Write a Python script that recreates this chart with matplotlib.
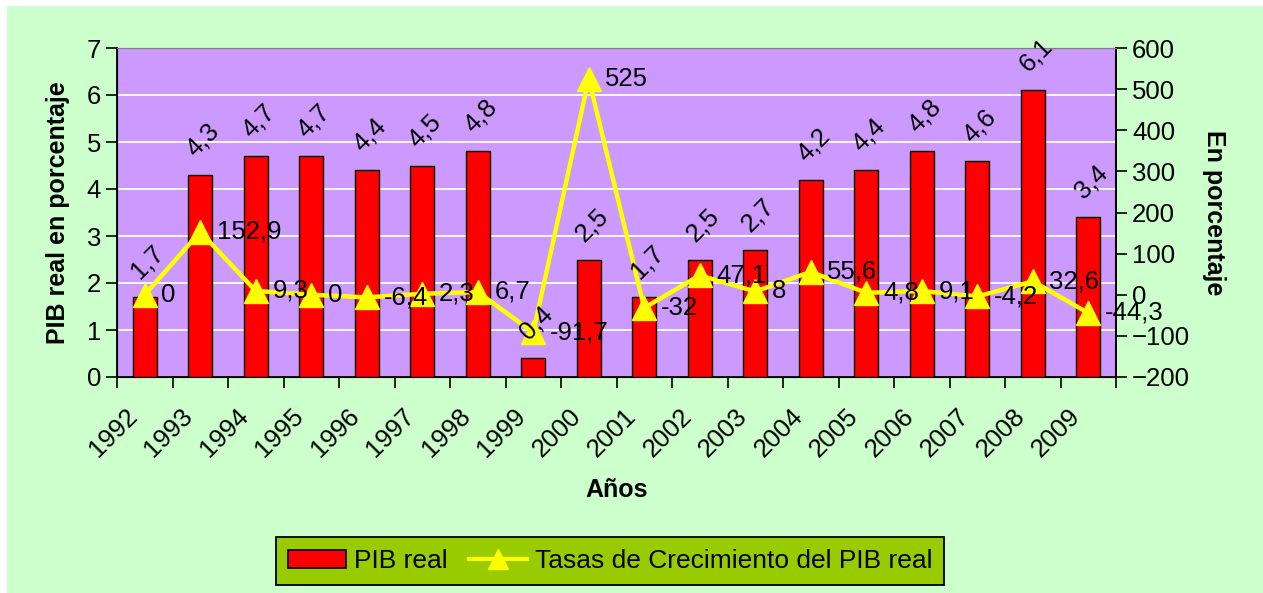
import matplotlib.pyplot as plt
import matplotlib.transforms as mtransforms
from matplotlib.patches import Rectangle
from matplotlib.lines import Line2D
from matplotlib.patches import Patch
import numpy as np

plt.rcParams["font.family"] = ["Liberation Sans", "DejaVu Sans"]

years = ["1992", "1993", "1994", "1995", "1996", "1997", "1998", "1999", "2000",
         "2001", "2002", "2003", "2004", "2005", "2006", "2007", "2008", "2009"]
pib_real = [1.7, 4.3, 4.7, 4.7, 4.4, 4.5, 4.8, 0.4, 2.5,
            1.7, 2.5, 2.7, 4.2, 4.4, 4.8, 4.6, 6.1, 3.4]
tasas = [0, 152.9, 9.3, 0, -6.4, 2.3, 6.7, -91.7, 525,
         -32, 47.1, 8, 55.6, 4.8, 9.1, -4.2, 32.6, -44.3]

FS = 18.5


def fmt(v):
    return f"{v:g}".replace(".", ",")


fig = plt.figure(figsize=(12.63, 5.93), dpi=100)
fig.patch.set_facecolor("white")
fig.add_artist(Rectangle((7 / 1263, 0), 1, 1 - 6 / 593, transform=fig.transFigure,
                         facecolor="#CCFFCC", edgecolor="none", zorder=-10))

ax = fig.add_axes([117 / 1263, 1 - 377 / 593, (1116 - 117) / 1263, (377 - 48) / 593])
ax.set_facecolor("#CC99FF")
x = np.arange(len(years))

ax.bar(x, pib_real, width=0.43, color="#FF0000", edgecolor="black", linewidth=1.0, zorder=3)
ax.set_xlim(-0.5, len(years) - 0.5)
ax.set_ylim(0, 7)
ax.set_yticks(range(0, 8))
ax.yaxis.grid(True, color="white", linewidth=1.3, zorder=1)
ax.set_axisbelow(True)

ax.set_xticks(x)
ax.set_xticklabels(years, rotation=45, ha="right", rotation_mode="anchor", fontsize=FS)
ax.set_xticks(np.arange(-0.5, len(years), 1), minor=True)
ax.tick_params(axis="x", which="major", length=0, pad=10)
ax.tick_params(axis="x", which="minor", length=8, width=1.2, direction="out")
ax.tick_params(axis="y", labelsize=FS, length=8, width=1.2)
# desplazar etiquetas del eje x (abajo a la izquierda, como en Excel)
shift = mtransforms.ScaledTranslation(-0.20, -0.13, fig.dpi_scale_trans)
for lbl in ax.get_xticklabels():
    lbl.set_transform(lbl.get_transform() + shift)
ax.set_xlabel("Años", fontsize=18, fontweight="bold", labelpad=12)
ax.set_ylabel("PIB real en porcentaje", fontsize=18, fontweight="bold", labelpad=12)

for side in ["left", "bottom", "right"]:
    ax.spines[side].set_linewidth(1.3)
ax.spines["top"].set_color("#808080")

ax2 = ax.twinx()
ax2.set_ylim(-200, 600)
ax2.set_yticks(range(-200, 601, 100))
ax2.tick_params(axis="y", labelsize=FS, length=8, width=1.2)
ax2.plot(x, tasas, color="#FFFF00", linewidth=3.2, marker="^", markersize=17,
         markerfacecolor="#FFFF00", markeredgecolor="#FFFF00", zorder=4)
ax2.set_ylabel("En porcentaje", fontsize=18, fontweight="bold", rotation=-90, labelpad=26)
ax2.spines["right"].set_linewidth(1.3)
ax2.spines["top"].set_color("#808080")

# etiquetas de barras (rotadas) sobre la serie de tasas
for xi, v in zip(x, pib_real):
    ax2.annotate(fmt(v), xy=(xi, v), xycoords=ax.transData, xytext=(2, 10),
                 textcoords="offset points", ha="center", va="bottom",
                 rotation=45, fontsize=FS, zorder=6)

for xi, v in zip(x, tasas):
    ax2.annotate(fmt(v), xy=(xi, v), xytext=(12, 0), textcoords="offset points",
                 ha="left", va="center", fontsize=FS, zorder=6)

handles = [Patch(facecolor="#FF0000", edgecolor="black", linewidth=1.2),
           Line2D([], [], color="#FFFF00", linewidth=3, marker="^", markersize=14)]
leg = fig.legend(handles, ["PIB real", "Tasas de Crecimiento del PIB real"],
                 loc="center", bbox_to_anchor=(610 / 1263, 1 - 561 / 593), ncol=2,
                 fontsize=19, frameon=True, fancybox=False, handlelength=2.2,
                 handletextpad=0.3, columnspacing=0.8, borderpad=0.45)
leg.get_frame().set_facecolor("#99CC00")
leg.get_frame().set_edgecolor("black")
leg.get_frame().set_linewidth(1.3)
leg.get_frame().set_alpha(1)

fig.savefig("out.png", dpi=100)
